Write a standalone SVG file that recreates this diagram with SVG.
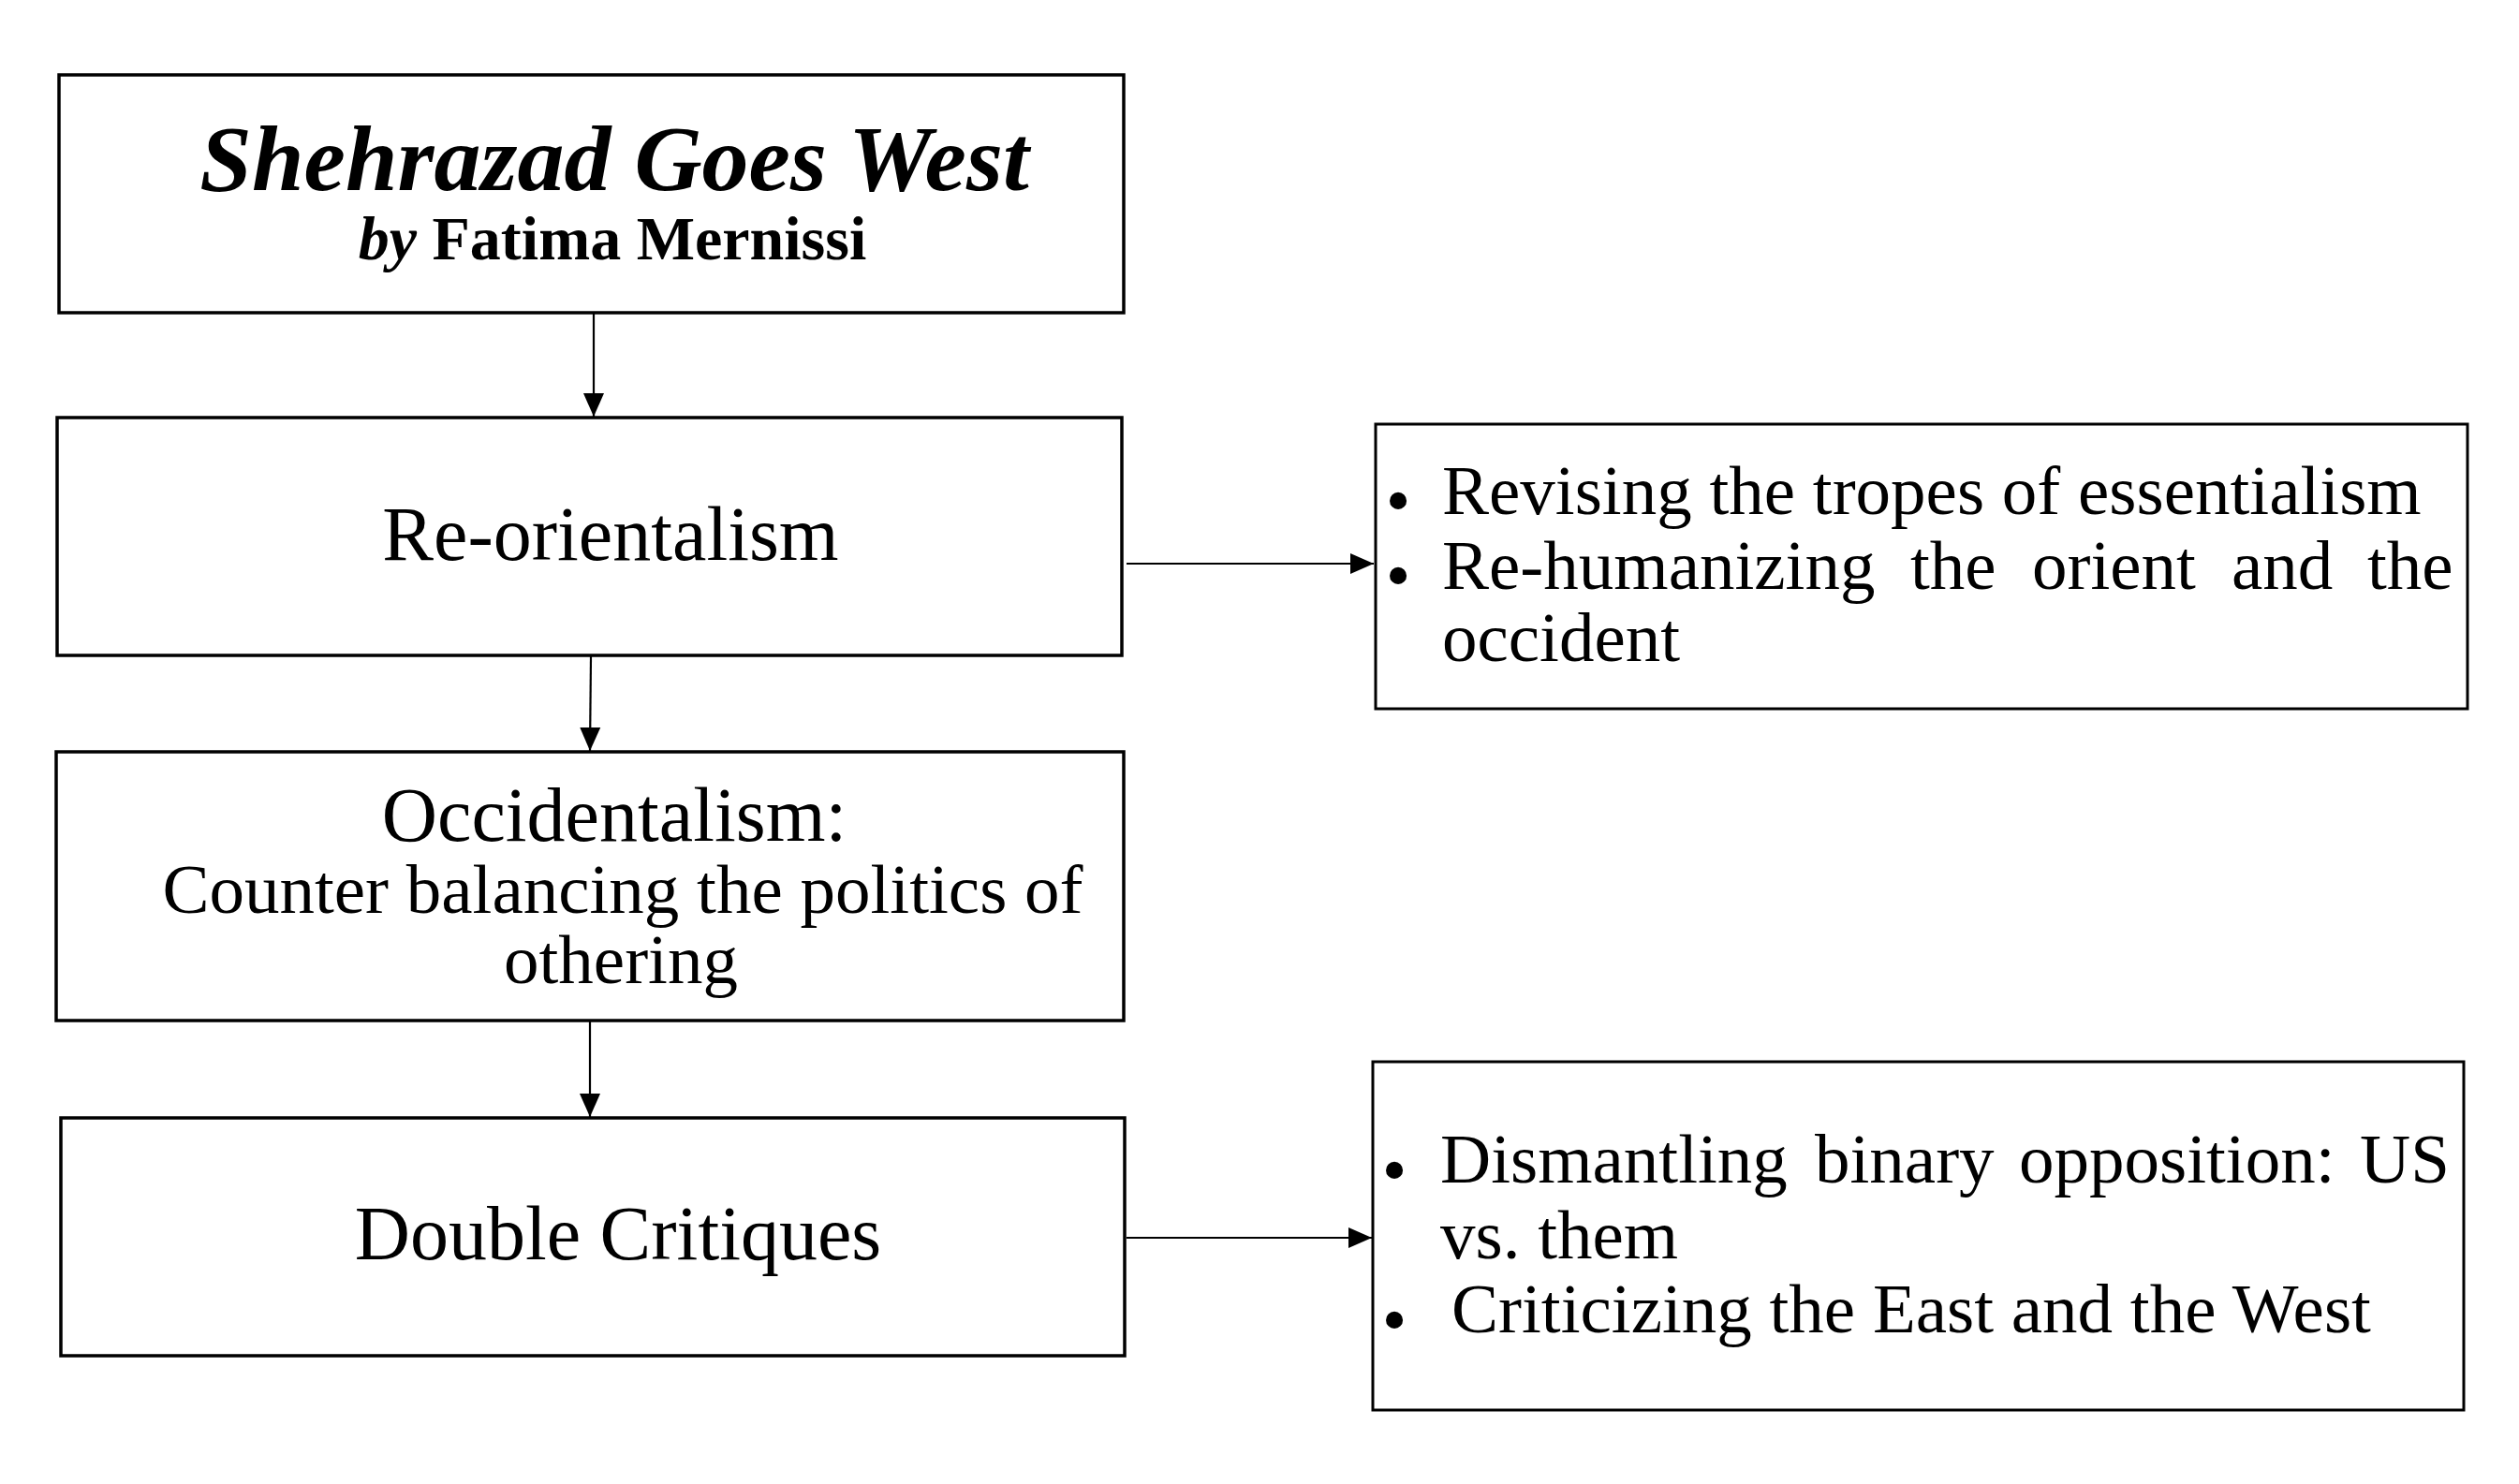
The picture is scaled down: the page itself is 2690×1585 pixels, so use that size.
<svg xmlns="http://www.w3.org/2000/svg" width="2690" height="1585" viewBox="0 0 2690 1585">
<style>
.box{fill:#fff;stroke:#000;stroke-width:3.5}
.rbox{fill:#fff;stroke:#000;stroke-width:3}
.t{font-family:"Liberation Serif","Times New Roman",serif;fill:#000}
.c{text-anchor:middle}
.conn{stroke:#000;stroke-width:2.2;fill:none}
.bul{font-family:"Liberation Serif","Times New Roman",serif;font-size:76px;text-anchor:middle;fill:#000}
</style>
<defs>
<marker id="ah" markerUnits="userSpaceOnUse" markerWidth="26" markerHeight="24" viewBox="0 0 26 24" refX="25" refY="12" orient="auto">
<path d="M0,1 L25,12 L0,23 Z" fill="#000"/>
</marker>
</defs>
<rect width="2690" height="1585" fill="#fff"/>
<g id="connectors">
<line class="conn" x1="634" y1="335" x2="634" y2="445" marker-end="url(#ah)"/>
<line class="conn" x1="631" y1="701" x2="630" y2="802" marker-end="url(#ah)"/>
<line class="conn" x1="630" y1="1091" x2="630" y2="1193" marker-end="url(#ah)"/>
<line class="conn" x1="1203" y1="602" x2="1467" y2="602" marker-end="url(#ah)"/>
<line class="conn" x1="1203" y1="1322" x2="1465" y2="1322" marker-end="url(#ah)"/>
</g>
<g id="node-title">
<rect class="box" x="63" y="80" width="1137" height="254"/>
<text class="t c" x="656" y="203" font-size="100" font-weight="bold" font-style="italic">Shehrazad Goes West</text>
<text class="t c" x="654" y="277" font-size="66" font-weight="bold"><tspan font-style="italic">by</tspan> Fatima Mernissi</text>
</g>
<g id="node-reorientalism">
<rect class="box" x="61" y="446" width="1137" height="254"/>
<text class="t c" x="652" y="598" font-size="82">Re-orientalism</text>
</g>
<g id="node-occidentalism">
<rect class="box" x="60" y="803" width="1140" height="287"/>
<text class="t c" x="656" y="898" font-size="82">Occidentalism:</text>
<text class="t c" x="665" y="975" font-size="75">Counter balancing the politics of</text>
<text class="t c" x="663" y="1050" font-size="75">othering</text>
</g>
<g id="node-double">
<rect class="box" x="65" y="1194" width="1136" height="254"/>
<text class="t c" x="660" y="1345" font-size="82">Double Critiques</text>
</g>
<g id="node-reorient-points">
<rect class="rbox" x="1469" y="453" width="1166" height="304"/>
<text class="bul" x="1493" y="560">•</text>
<text class="bul" x="1493" y="640">•</text>
<text class="t" x="1540" y="549" font-size="75">Revising the tropes of essentialism</text>
<text class="t" y="629" font-size="75"><tspan x="1540">Re-humanizing</tspan><tspan x="2040">the</tspan><tspan x="2170">orient</tspan><tspan x="2383">and</tspan><tspan x="2528">the</tspan></text>
<text class="t" x="1540" y="706" font-size="75">occident</text>
</g>
<g id="node-double-points">
<rect class="rbox" x="1466" y="1134" width="1165" height="372"/>
<text class="bul" x="1489" y="1275">•</text>
<text class="bul" x="1489" y="1435">•</text>
<text class="t" y="1263" font-size="75"><tspan x="1538">Dismantling</tspan><tspan x="1938">binary</tspan><tspan x="2156">opposition:</tspan><tspan x="2520">US</tspan></text>
<text class="t" x="1538" y="1344" font-size="75">vs. them</text>
<text class="t" x="1550" y="1423" font-size="75">Criticizing the East and the West</text>
</g>
</svg>
